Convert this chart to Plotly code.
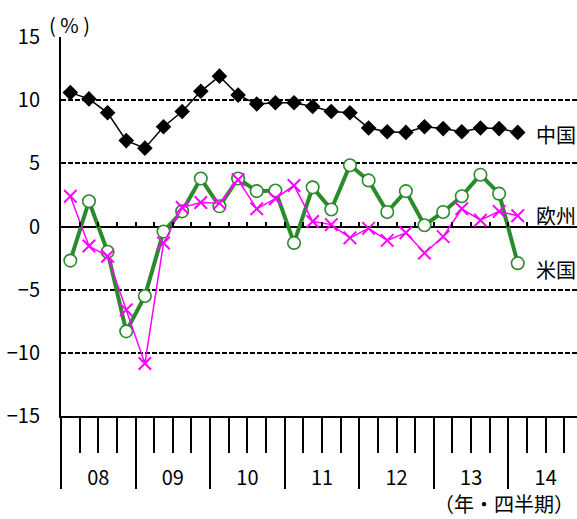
import plotly.graph_objects as go

# Quarterly real GDP growth, 2008Q1 - 2014Q1 (%)
quarters = [f"{y:02d}Q{q}" for y in range(8, 14) for q in range(1, 5)] + ["14Q1"]
china = [10.6, 10.1, 9.0, 6.8, 6.2, 7.9, 9.1, 10.7, 11.9, 10.4, 9.7, 9.8, 9.8,
         9.5, 9.1, 9.0, 7.8, 7.5, 7.45, 7.9, 7.75, 7.5, 7.8, 7.75, 7.45]
usa = [-2.7, 2.0, -2.0, -8.3, -5.5, -0.4, 1.2, 3.8, 1.6, 3.8, 2.8, 2.85, -1.3,
       3.1, 1.35, 4.85, 3.65, 1.15, 2.8, 0.1, 1.15, 2.4, 4.1, 2.6, -2.9]
eu = [2.4, -1.55, -2.35, -6.6, -10.85, -1.3, 1.5, 1.9, 1.85, 3.7, 1.4, 2.2, 3.25,
      0.4, 0.15, -0.9, -0.15, -1.1, -0.5, -2.1, -0.8, 1.4, 0.5, 1.2, 0.85]
years = ["08", "09", "10", "11", "12", "13", "14"]
y_ticks = [-15, -10, -5, 0, 5, 10, 15]

FONT = "Noto Sans CJK JP"
GREEN = "#2b8a2b"
MAGENTA = "#ff00ff"

xi = list(range(len(quarters)))
n_axis_q = 4 * len(years)          # the lower axis runs through 2014Q4
x_range = [-0.5, 27.18]
y_zero_pos = (519 - 226.5) / 482   # paper position of the 0 % line
y_bottom = (519 - 416) / 482

fig = go.Figure()

fig.add_trace(go.Scatter(
    x=xi, y=usa, mode="lines+markers", name="米国",
    line=dict(color=GREEN, width=4),
    marker=dict(symbol="circle", size=12.5, color="white",
                line=dict(color=GREEN, width=1.6)),
    cliponaxis=False,
))
fig.add_trace(go.Scatter(
    x=xi, y=eu, mode="lines+markers", name="欧州",
    line=dict(color=MAGENTA, width=1.5),
    marker=dict(symbol="x-thin", size=12.5, color=MAGENTA,
                line=dict(color=MAGENTA, width=2)),
    cliponaxis=False,
))
fig.add_trace(go.Scatter(
    x=xi, y=china, mode="lines+markers", name="中国",
    line=dict(color="black", width=1.5),
    marker=dict(symbol="diamond", size=12, color="black"),
    cliponaxis=False,
))

# series names at the right end of each line
for txt, yv in [("中国", 7.3), ("欧州", 0.85), ("米国", -3.4)]:
    fig.add_annotation(x=1, xref="paper", xanchor="right", xshift=1, y=yv, yref="y",
                       yanchor="middle", text=txt, showarrow=False,
                       font=dict(family=FONT, size=20, color="black"))

fig.add_annotation(x=-0.028, xref="paper", xanchor="left", y=1.0, yref="paper",
                   yanchor="bottom", yshift=-4, text="(\u00a0%\u00a0)", showarrow=False,
                   font=dict(family=FONT, size=20, color="black"))
fig.add_annotation(x=1, xref="paper", xanchor="right", xshift=-1, y=0.0, yref="paper",
                   yanchor="bottom", yshift=-1, text="（年・四半期）", showarrow=False,
                   font=dict(family=FONT, size=20, color="black"))

boundaries_q = [i - 0.5 for i in range(n_axis_q + 1)]
boundaries_y = [4 * i - 0.5 for i in range(len(years) + 1)]

fig.update_layout(
    width=577, height=519,
    margin=dict(l=61, r=0, t=37, b=0, autoexpand=False),
    paper_bgcolor="white", plot_bgcolor="white",
    showlegend=False,
    font=dict(family=FONT, size=19, color="black"),
    xaxis=dict(
        range=x_range, showgrid=False, zeroline=False, automargin=False,
        showline=True, linecolor="black", linewidth=2,
        tickmode="array", tickvals=boundaries_y, showticklabels=False,
        ticks="outside", ticklen=71, tickwidth=2, tickcolor="black",
        minor=dict(tickmode="array", tickvals=boundaries_q, ticks="outside",
                   ticklen=35, tickwidth=2, tickcolor="black", showgrid=False),
    ),
    # small category ticks standing on the 0 % line
    xaxis2=dict(
        overlaying="x", matches="x", anchor="free", position=y_zero_pos,
        side="bottom", showgrid=False, zeroline=False, showline=False,
        automargin=False,
        tickmode="array", tickvals=[i - 0.5 for i in range(len(quarters) + 1)],
        ticks="inside", ticklen=5, tickwidth=1.5, tickcolor="black",
        showticklabels=False,
    ),
    # year labels centred in each year band
    xaxis3=dict(
        overlaying="x", matches="x", anchor="free", position=0.115,
        side="bottom", showgrid=False, zeroline=False, showline=False,
        automargin=False,
        tickmode="array", tickvals=[4 * i + 1.5 for i in range(len(years))],
        ticktext=years, ticks="",
        tickfont=dict(family=FONT, size=20, color="black"),
    ),
    yaxis=dict(
        domain=[y_bottom, 1], range=[-15, 15], automargin=False,
        tickmode="array", tickvals=y_ticks,
        showgrid=True, gridcolor="black", gridwidth=1.5, griddash="5px,2px",
        zeroline=True, zerolinecolor="black", zerolinewidth=2,
        showline=True, linecolor="black", linewidth=2,
        ticks="outside", ticklen=15, tickcolor="rgba(0,0,0,0)",
        tickfont=dict(family=FONT, size=20, color="black"),
    ),
)

# invisible anchors so the extra axes are drawn
fig.add_trace(go.Scatter(x=[0], y=[None], xaxis="x2", yaxis="y",
                         showlegend=False, hoverinfo="skip"))
fig.add_trace(go.Scatter(x=[0], y=[None], xaxis="x3", yaxis="y",
                         showlegend=False, hoverinfo="skip"))

fig.write_html("out.html")
